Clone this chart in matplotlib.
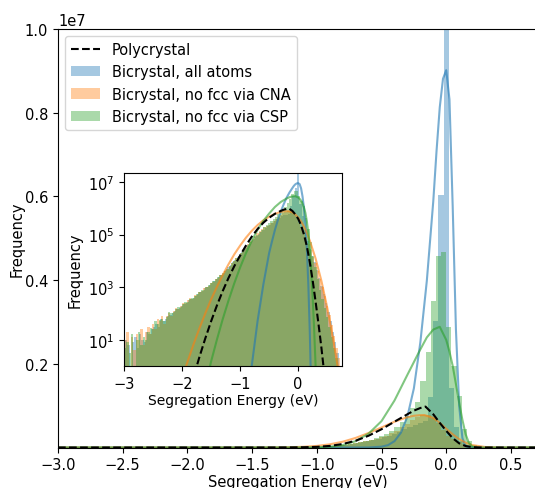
import numpy as np
import matplotlib.pyplot as plt
from matplotlib.ticker import NullLocator

plt.rcParams['font.size'] = 10.5

# histogram bins (eV), 0.04 wide; the "all atoms" histogram is shifted by half a bin
edges = np.round(np.arange(-3.0, 0.7601, 0.04), 2)
edges_blue = np.round(np.arange(-3.02, 0.7401, 0.04), 2)

# bin counts as log10(count), None = empty bin
log_counts_all = [
    0.5, 1.0, 0.8, None, 0.9, 1.1, 0.7, 1.2, 1.0, 0.9,
    1.3, 1.2, 1.4, 1.5, 1.6, 1.5, 1.8, 1.7, 1.8, 1.9,
    1.95, 2.0, 2.1, 2.15, 2.2, 2.3, 2.35, 2.4, 2.5, 2.55,
    2.6, 2.65, 2.75, 2.8, 2.85, 2.95, 3.0, 3.1, 3.15, 3.25,
    3.3, 3.4, 3.45, 3.55, 3.65, 3.75, 3.85, 3.95, 4.05, 4.15,
    4.25, 4.35, 4.45, 4.55, 4.65, 4.75, 4.85, 4.95, 5.02, 5.1,
    5.18, 5.25, 5.32, 5.38, 5.45, 5.52, 5.58, 5.64, 5.7, 5.74,
    5.76, 5.8, 6.08, 6.48, 6.78, 7.41, 6.15, 5.7, 5.18, 4.75,
    4.45, 4.2, 3.95, 3.65, 3.35, 3.05, 2.75, 2.4, 2.05, 1.7,
    1.3, 0.9, 0.5, None]
log_counts_cna = [
    1.0, 1.3, None, 1.1, 0.6, 1.2, 1.0, 1.4, 0.8, 1.3,
    1.5, 1.2, 1.6, 1.4, 1.8, 1.7, 1.9, 1.6, 1.9, 2.0,
    1.9, 2.1, 2.2, 2.15, 2.3, 2.4, 2.4, 2.5, 2.6, 2.55,
    2.7, 2.7, 2.8, 2.85, 2.95, 3.0, 3.05, 3.15, 3.2, 3.3,
    3.35, 3.45, 3.5, 3.6, 3.7, 3.8, 3.9, 4.0, 4.1, 4.2,
    4.3, 4.45, 4.55, 4.65, 4.75, 4.85, 4.95, 5.05, 5.12, 5.2,
    5.28, 5.32, 5.38, 5.45, 5.53, 5.6, 5.68, 5.75, 5.81, 5.86,
    5.89, 5.89, 5.85, 5.76, 5.62, 5.45, 5.3, 5.1, 4.9, 4.65,
    4.4, 4.15, 3.9, 3.6, 3.3, 3.0, 2.65, 2.3, 1.95, 1.55,
    1.15, 0.7, 0.3, None]
log_counts_csp = [
    0.7, 0.9, 0.5, 1.2, None, 1.0, 1.3, 0.8, 1.1, 1.0,
    1.3, 1.45, 1.4, 1.7, 1.6, 1.75, 1.8, 1.7, 1.85, 2.05,
    2.0, 2.05, 2.15, 2.25, 2.25, 2.35, 2.45, 2.45, 2.55, 2.6,
    2.65, 2.75, 2.8, 2.9, 2.9, 3.0, 3.1, 3.15, 3.25, 3.3,
    3.4, 3.45, 3.55, 3.6, 3.7, 3.8, 3.9, 4.0, 4.1, 4.2,
    4.3, 4.4, 4.5, 4.6, 4.7, 4.8, 4.9, 5.0, 5.1, 5.18,
    5.27, 5.35, 5.44, 5.52, 5.6, 5.68, 5.78, 5.88, 5.98, 6.04,
    6.2, 6.36, 6.545, 6.66, 6.67, 6.46, 6.29, 6.09, 5.64, 5.2,
    4.7, 4.2, 3.75, 3.3, 2.9, 2.55, 2.2, 1.85, 1.5, 1.1,
    0.7, 0.3, None, None]

# fitted spectra, log10(frequency) at the given energies
fit_x_poly = [-3.0, -1.8, -1.7, -1.6, -1.5, -1.4, -1.3, -1.2, -1.1, -1.0, -0.9, -0.8, -0.7,
              -0.6, -0.5, -0.4, -0.3, -0.25, -0.2, -0.16, -0.1, -0.05, 0.0, 0.05, 0.1,
              0.15, 0.2, 0.25, 0.3, 0.35, 0.4, 0.45, 0.5, 0.7]
fit_log_poly = [-3, -0.4, 0.35, 1.05, 1.7, 2.3, 2.85, 3.35, 3.8, 4.2, 4.58, 4.92, 5.21,
                5.45, 5.64, 5.79, 5.9, 5.945, 5.975, 5.99, 5.9, 5.77, 5.6, 5.35, 5.0,
                4.55, 3.95, 3.25, 2.45, 1.6, 0.7, -0.3, -1.5, -3]
fit_x_all = [-3.0, -0.9, -0.8, -0.7, -0.6, -0.5, -0.45, -0.4, -0.35, -0.3, -0.25, -0.2,
             -0.15, -0.1, -0.075, -0.05, -0.025, 0.0, 0.025, 0.05, 0.075, 0.1, 0.125,
             0.15, 0.175, 0.2, 0.225, 0.7]
fit_log_all = [-3, -1.8, 0.0, 1.7, 3.1, 4.3, 4.75, 5.18, 5.55, 5.87, 6.15, 6.4,
               6.6, 6.77, 6.85, 6.91, 6.945, 6.955, 6.92, 6.76, 6.45, 6.0, 5.35,
               4.45, 3.1, 1.3, -1.0, -3]
fit_x_cna = [-3.0, -2.1, -2.0, -1.9, -1.8, -1.7, -1.6, -1.5, -1.4, -1.3, -1.2, -1.1, -1.0,
             -0.9, -0.8, -0.7, -0.6, -0.5, -0.4, -0.3, -0.25, -0.2, -0.17, -0.1, -0.05,
             0.0, 0.05, 0.1, 0.15, 0.2, 0.3, 0.4, 0.5, 0.6, 0.7]
fit_log_cna = [-3, -1.2, -0.48, 0.2, 0.84, 1.44, 2.0, 2.53, 3.01, 3.46, 3.87, 4.25, 4.58,
               4.88, 5.14, 5.36, 5.54, 5.68, 5.79, 5.86, 5.88, 5.888, 5.89, 5.85, 5.77,
               5.65, 5.5, 5.3, 5.06, 4.77, 4.09, 3.24, 2.23, 1.06, -0.28]
fit_x_csp = [-3.0, -1.6, -1.5, -1.4, -1.3, -1.2, -1.1, -1.0, -0.9, -0.8, -0.7, -0.6, -0.5,
             -0.4, -0.3, -0.2, -0.15, -0.1, -0.05, 0.0, 0.025, 0.05, 0.075, 0.1, 0.125,
             0.15, 0.175, 0.2, 0.225, 0.25, 0.275, 0.3, 0.325, 0.7]
fit_log_csp = [-3, -0.8, 0.17, 1.0, 1.78, 2.49, 3.15, 3.75, 4.29, 4.76, 5.18, 5.52, 5.8,
               6.05, 6.24, 6.37, 6.42, 6.45, 6.46, 6.41, 6.36, 6.29, 6.18, 6.03, 5.82,
               5.5, 5.05, 4.4, 3.6, 2.6, 1.4, 0.0, -1.6, -3]

labels = ['Bicrystal, all atoms', 'Bicrystal, no fcc via CNA', 'Bicrystal, no fcc via CSP']
colors = ['tab:blue', 'tab:orange', 'tab:green']


def to_counts(logs):
    return [0.0 if v is None else 10 ** v for v in logs]


def draw(ax):
    hists = []
    hist_sets = [(edges_blue, log_counts_all), (edges, log_counts_cna), (edges, log_counts_csp)]
    fits = [(fit_x_all, fit_log_all), (fit_x_cna, fit_log_cna), (fit_x_csp, fit_log_csp)]
    for (e, logs), (fx, flog), col in zip(hist_sets, fits, colors):
        mids = (e[:-1] + e[1:]) / 2
        _, _, bars = ax.hist(mids, bins=e, weights=to_counts(logs), color=col, alpha=0.4)
        hists.append(bars[0])
        ax.plot(fx, 10 ** np.array(flog, dtype=float), color=col, alpha=0.6, lw=1.5)
    poly, = ax.plot(fit_x_poly, 10 ** np.array(fit_log_poly, dtype=float), 'k--',
                    lw=1.5, zorder=5)
    return poly, hists


fig = plt.figure(figsize=(5.35, 4.89), dpi=100)

# main panel, linear scale
ax = fig.add_axes([0.1084, 0.0828, 0.895, 0.8559])
poly, hists = draw(ax)
ax.set_xlim(-3, 0.7)
ax.set_ylim(0, 1e7)
ax.set_yticks([2e6, 4e6, 6e6, 8e6, 1e7])
ax.set_xlabel('Segregation Energy (eV)', labelpad=1)
ax.set_ylabel('Frequency', labelpad=0)
ax.legend([poly] + hists, ['Polycrystal'] + labels, loc='upper left')

# inset, log scale
axin = fig.add_axes([0.2318, 0.2495, 0.408, 0.3947])
draw(axin)
axin.set_yscale('log')
axin.set_xlim(-3, 0.76)
axin.set_ylim(1, 2.2e7)
axin.set_xticks([-3, -2, -1, 0])
axin.set_yticks([1e1, 1e3, 1e5, 1e7])
axin.yaxis.set_minor_locator(NullLocator())
axin.set_xlabel('Segregation Energy (eV)', fontsize=10, labelpad=2)
axin.set_ylabel('Frequency', fontsize=10.5)

fig.savefig('out.png', dpi=100)
